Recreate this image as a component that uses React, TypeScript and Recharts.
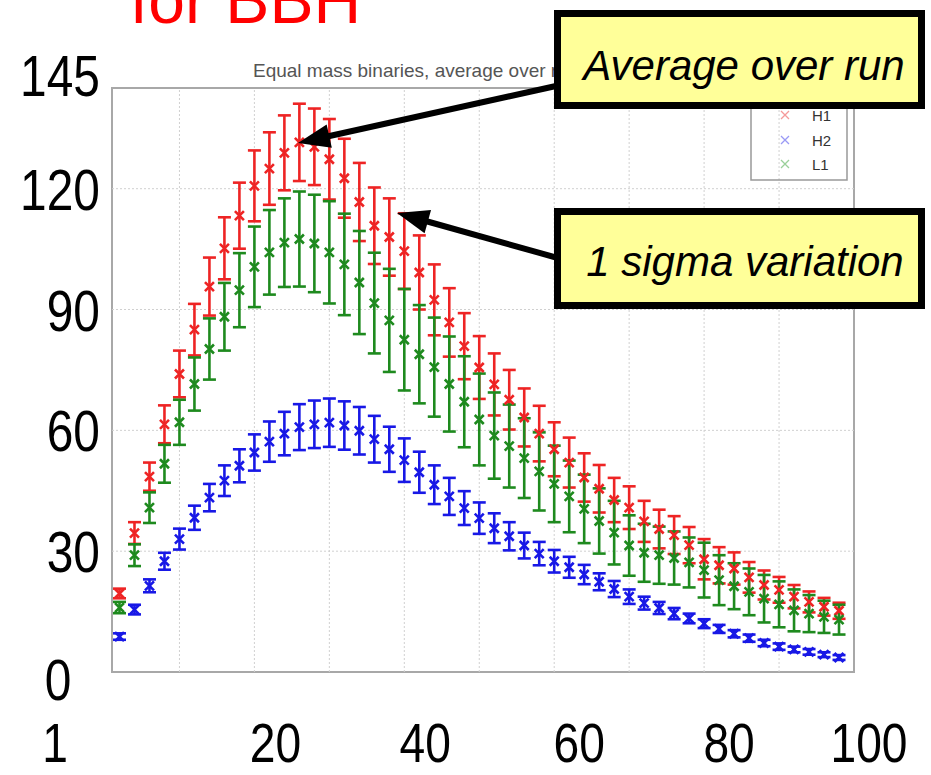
import React from 'react';
import { ScatterChart, Scatter, XAxis, YAxis, ErrorBar, ReferenceLine, ReferenceArea } from 'recharts';

// sample positions (every other unit)
const XS = [2, 4, 6, 8, 10, 12, 14, 16, 18, 20, 22, 24, 26, 28, 30, 32, 34, 36, 38, 40, 42, 44, 46, 48, 50, 52, 54, 56, 58, 60, 62, 64, 66, 68, 70, 72, 74, 76, 78, 80, 82, 84, 86, 88, 90, 92, 94, 96, 98];

const H1_MEAN = [19.5, 34.5, 48.5, 61.5, 74, 85, 95.7, 105.2, 113.3, 120.7, 125, 128.9, 131.5, 130.4, 127.3, 122.6, 116.7, 110.8, 108, 104.5, 99.2, 92.4, 86.8, 80.9, 75.6, 71.4, 67.6, 63.2, 59.2, 55.3, 52, 48.3, 45.5, 42.7, 40.8, 37.4, 35.5, 34, 31.5, 28, 26.5, 25.7, 23.5, 21.6, 20.4, 18.7, 17.4, 16.2, 15.2];
const H1_ERR = [1.2, 2.7, 3.5, 4.7, 5.8, 6.4, 7.2, 7.7, 8.2, 8.8, 9, 9.3, 9.6, 9.5, 10, 9.8, 9.7, 9.5, 9.6, 9.4, 9.2, 8.8, 8.5, 8.2, 7.8, 7.7, 7.4, 7.2, 6.9, 6.7, 6.2, 6, 5.9, 5.5, 5.3, 5.1, 4.8, 4.7, 4.5, 5, 4.5, 4, 3.8, 3.6, 3.2, 2.9, 2.6, 2.2, 2];

const H2_MEAN = [8.8, 15.5, 21.4, 27.5, 33, 38.3, 43.3, 47.5, 51.2, 54.5, 57.2, 59.2, 60.8, 61.5, 61.9, 61.2, 59.9, 57.8, 55.3, 52.6, 49.6, 46.5, 43.6, 40.7, 38.2, 35.7, 33.7, 31.4, 29.4, 27.5, 26, 24.2, 22.4, 20.6, 18.7, 17.1, 15.9, 14.5, 13.3, 12, 10.7, 9.5, 8.4, 7.2, 6.3, 5.6, 5, 4.3, 3.6];
const H2_ERR = [0.8, 1.2, 1.6, 2.1, 2.6, 3, 3.4, 3.8, 4.1, 4.5, 5, 5.4, 5.7, 5.9, 6, 6, 5.9, 5.8, 5.6, 5.4, 5.1, 4.8, 4.6, 4.2, 3.9, 3.7, 3.5, 3.2, 2.9, 2.8, 2.6, 2.4, 2.1, 2, 1.8, 1.6, 1.5, 1.4, 1.2, 1.1, 1, 0.9, 0.9, 0.8, 0.8, 0.7, 0.7, 0.6, 0.6];

const L1_MEAN = [16, 29, 40.8, 51.7, 62, 71.5, 80.2, 88.2, 94.8, 100.6, 104.2, 106.6, 107.5, 106.4, 104.2, 101.2, 96.7, 91.6, 87.3, 82.5, 78.9, 75.7, 71.5, 67.1, 62.7, 58.7, 56.1, 53.1, 49.8, 46.7, 43.6, 40.5, 37.5, 34.6, 31.4, 29.6, 29, 28.3, 27.2, 25.3, 22.8, 21.3, 19.9, 18.2, 16.8, 15.3, 14.5, 13.7, 13];
const L1_ERR = [1.4, 2.7, 3.8, 4.7, 5.6, 6.6, 7.6, 8.4, 9.2, 10, 10.5, 11, 11.8, 12.1, 12.7, 12.6, 12.8, 12.5, 12.8, 12.6, 12.2, 12.3, 11.8, 11.3, 11.4, 10.7, 10.3, 9.9, 9.7, 9.5, 8.9, 8.5, 8.1, 7.9, 7.5, 7.2, 7.1, 6.6, 6.2, 6.8, 6.2, 5.7, 5.8, 5.9, 5.7, 5.2, 4.6, 4, 3.7];

const X_TICKS = [1, 20, 40, 60, 80, 100];
const Y_TICKS = [0, 30, 60, 90, 120, 145];
const X_GRID = [10, 20, 30, 40, 50, 60, 70, 80, 90];
const Y_GRID = [30, 60, 90, 120];

const RED = '#ee2424';
const BLUE = '#1818e6';
const GREEN = '#1e8a1e';
const SANS = '"Liberation Sans", Arial, sans-serif';

const toRows = (mean: number[], err: number[]) => XS.map((x, i) => ({ x, y: mean[i], err: err[i] }));

const h1Data = toRows(H1_MEAN, H1_ERR);
const h2Data = toRows(H2_MEAN, H2_ERR);
const l1Data = toRows(L1_MEAN, L1_ERR);

const crossShape = (color: string) => (props: any) => {
    const { cx, cy } = props;
    if (cx == null || cy == null) return <g />;
    const s = 4.5;
    return (
        <path
            d={`M${cx - s},${cy - s}L${cx + s},${cy + s}M${cx - s},${cy + s}L${cx + s},${cy - s}`}
            stroke={color}
            strokeWidth={2.6}
            fill="none"
        />
    );
};

// the big slide labels are a narrow face; squeeze Liberation Sans to get there
const NarrowText = ({ x, y, anchor, size = 57, children }: any) => (
    <g transform={`translate(${x},${y}) scale(0.84,1)`}>
        <text x={0} y={0} textAnchor={anchor} dominantBaseline="central" fontFamily={SANS} fontSize={size} fill="#000">
            {children}
        </text>
    </g>
);

// overlay tick labels sit a little off the real axis positions
const X_LABEL_DX: Record<number, number> = { 1: -57, 20: 21, 40: 21, 60: 25, 80: 25, 100: 15 };

const XTick = ({ x, payload }: any) => (
    <NarrowText x={x + (X_LABEL_DX[payload.value] ?? 0)} y={743} size={55} anchor="middle">{payload.value}</NarrowText>
);

const YTick = ({ y, payload }: any) => {
    const v = payload.value;
    const isZero = v === 0;
    const dy = v === 145 ? -12 : isZero ? 8 : 1;
    return <NarrowText x={isZero ? 58 : 100} y={y + dy} anchor={isZero ? 'middle' : 'end'}>{v}</NarrowText>;
};

const arrowHead = (tx: number, ty: number, fx: number, fy: number, len: number, half: number) => {
    const dx = fx - tx, dy = fy - ty;
    const d = Math.hypot(dx, dy);
    const ux = dx / d, uy = dy / d;
    const bx = tx + ux * len, by = ty + uy * len;
    return `${tx},${ty} ${bx - uy * half},${by + ux * half} ${bx + uy * half},${by - ux * half}`;
};

const Annotations = () => {
    const a1 = { tx: 298, ty: 143, fx: 565, fy: 84 };
    const a2 = { tx: 397, ty: 213, fx: 565, fy: 260 };
    return (
        <svg width={931} height={775} style={{ position: 'absolute', left: 0, top: 0, pointerEvents: 'none' }}>
            <text x={130} y={23} fontFamily={SANS} fontSize={66} fill="#ff0000">for BBH</text>
            <text x={253} y={70} dominantBaseline="central" fontFamily={SANS} fontSize={19} fill="#555">
                Equal mass binaries, average over run
            </text>

            {/* legend */}
            <rect x={751} y={92} width={96} height={88} fill="none" stroke="#999" strokeWidth={1.5} />
            {[{ n: 'H1', c: '#f59a9a', y: 115 }, { n: 'H2', c: '#9a9af5', y: 140 }, { n: 'L1', c: '#9ad09a', y: 164 }].map(e => (
                <g key={e.n}>
                    <path d={`M781,${e.y - 4}L789,${e.y + 4}M781,${e.y + 4}L789,${e.y - 4}`} stroke={e.c} strokeWidth={1.3} />
                    <text x={812} y={e.y} dominantBaseline="central" fontFamily={SANS} fontSize={15} fill="#333">{e.n}</text>
                </g>
            ))}

            {/* arrows */}
            {[a1, a2].map((a, i) => (
                <g key={i}>
                    <line x1={a.fx} y1={a.fy} x2={a.tx + (a.fx - a.tx) * 0.08} y2={a.ty + (a.fy - a.ty) * 0.08} stroke="#000" strokeWidth={6} />
                    <polygon points={arrowHead(a.tx, a.ty, a.fx, a.fy, 32, 12)} fill="#000" />
                </g>
            ))}

            {/* callout boxes */}
            <rect x={557.5} y={13.5} width={364} height={92} fill="#ffff99" stroke="#000" strokeWidth={7} />
            <text x={744} y={80} textAnchor="middle" fontFamily={SANS} fontStyle="italic" fontSize={42} fill="#000">
                Average over run
            </text>
            <rect x={557.5} y={211.5} width={364} height={94} fill="#ffff99" stroke="#000" strokeWidth={7} />
            <text x={745} y={276} textAnchor="middle" fontFamily={SANS} fontStyle="italic" fontSize={42} fill="#000">
                1 sigma variation
            </text>
        </svg>
    );
};

export default function App() {
    return (
        <div style={{ position: 'absolute', left: 0, top: 0, width: 931, height: 775, background: '#fff' }}>
            <ScatterChart width={931} height={775} margin={{ top: 88, right: 77, bottom: 13, left: 12 }}>
                <XAxis type="number" dataKey="x" domain={[1, 100]} ticks={X_TICKS} tick={<XTick />} tickLine={false} axisLine={false} height={90} interval={0} allowDataOverflow />
                <YAxis type="number" dataKey="y" domain={[0, 145]} ticks={Y_TICKS} tick={<YTick />} tickLine={false} axisLine={false} width={100} interval={0} allowDataOverflow />
                {X_GRID.map(v => <ReferenceLine key={`gx${v}`} x={v} stroke="#d0d0d0" strokeDasharray="2 2" />)}
                {Y_GRID.map(v => <ReferenceLine key={`gy${v}`} y={v} stroke="#d0d0d0" strokeDasharray="2 2" />)}
                <ReferenceArea x1={1} x2={100} y1={0} y2={145} fill="none" stroke="#a8a8a8" strokeWidth={2} />
                <Scatter data={h1Data} shape={crossShape(RED)} isAnimationActive={false}>
                    <ErrorBar dataKey="err" direction="y" width={6.5} stroke={RED} strokeWidth={2.6} isAnimationActive={false} />
                </Scatter>
                <Scatter data={h2Data} shape={crossShape(BLUE)} isAnimationActive={false}>
                    <ErrorBar dataKey="err" direction="y" width={6.5} stroke={BLUE} strokeWidth={2.6} isAnimationActive={false} />
                </Scatter>
                <Scatter data={l1Data} shape={crossShape(GREEN)} isAnimationActive={false}>
                    <ErrorBar dataKey="err" direction="y" width={6.5} stroke={GREEN} strokeWidth={2.6} isAnimationActive={false} />
                </Scatter>
            </ScatterChart>
            <Annotations />
        </div>
    );
}
